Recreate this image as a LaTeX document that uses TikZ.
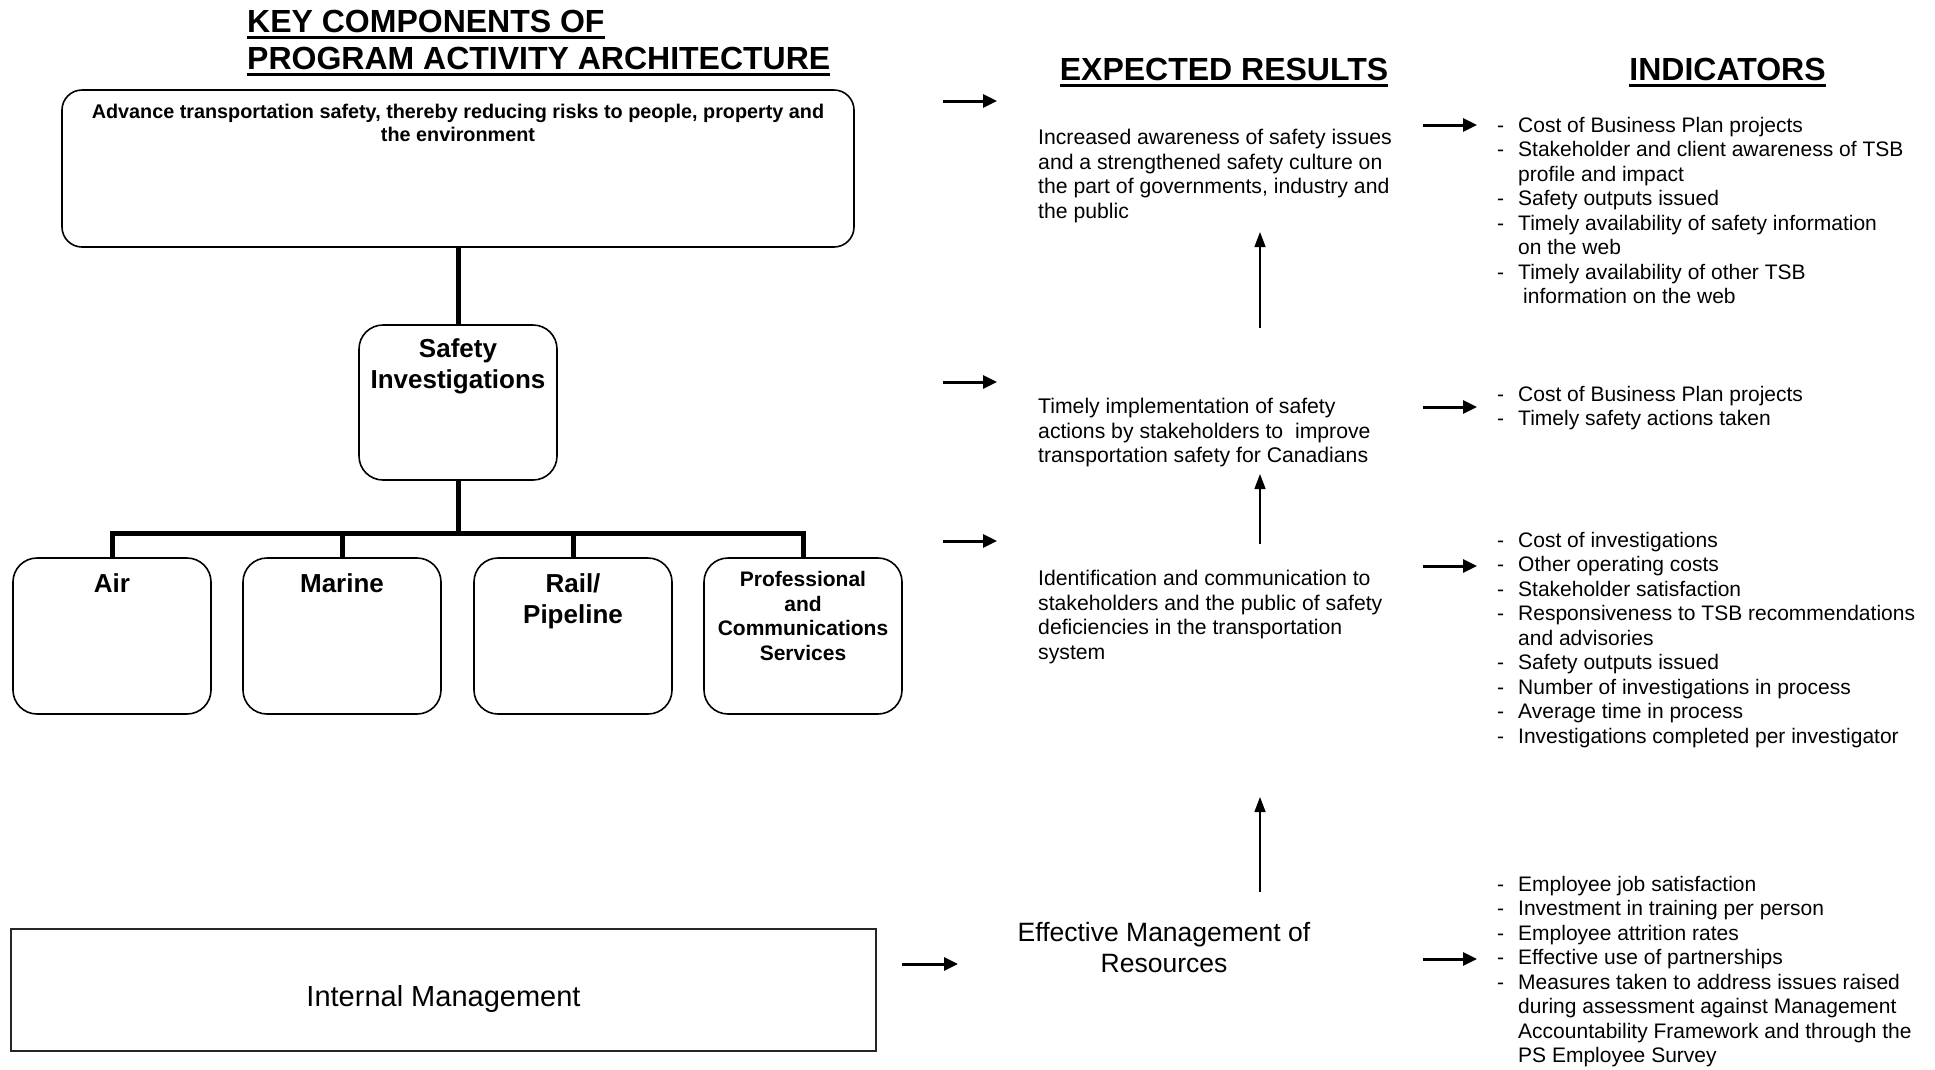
\documentclass[tikz,border=0pt]{standalone}
\usepackage{fontspec}
\setmainfont{Liberation Sans}
\usetikzlibrary{arrows.meta,positioning}
\newcommand{\ulhead}[1]{\leavevmode\setbox0=\hbox{#1}\rlap{\rule[-7pt]{\wd0}{3pt}}\box0}
\begin{document}
\begin{tikzpicture}[
    x=1pt, y=-1pt,
    headlbl/.style={font=\fontsize{32}{37}\selectfont\bfseries, inner sep=0pt},
    roundbox/.style={draw, line width=1.6pt, rounded corners=20pt},
    goalbox/.style={roundbox, minimum width=792pt, minimum height=157pt},
    unitbox/.style={roundbox, rounded corners=24pt, minimum width=198pt, minimum height=156pt},
    mgmtbox/.style={draw=black!85, line width=1.6pt, minimum width=865pt, minimum height=122pt,
      font=\fontsize{29}{34}\selectfont, text height=32pt, text depth=0pt},
    goallbl/.style={font=\fontsize{19.8}{22.5}\selectfont\bfseries, align=center, inner sep=0pt},
    unitlbl/.style={font=\fontsize{26}{31.5}\selectfont\bfseries, align=center, inner sep=0pt},
    proflbl/.style={font=\fontsize{21}{24.5}\selectfont\bfseries, align=center, inner sep=0pt},
    resultlbl/.style={font=\fontsize{21.2}{24.5}\selectfont, align=left, inner sep=0pt, anchor=north west},
    bigresult/.style={font=\fontsize{26.5}{31}\selectfont, align=center, inner sep=0pt, anchor=north},
    indlist/.style={font=\fontsize{21}{24.5}\selectfont, inner sep=0pt, anchor=north west},
    treeline/.style={line width=5pt},
    fatarrow/.style={line width=3pt, -{Triangle[length=14pt,width=13pt]}},
    thinarrow/.style={line width=1.5pt, -{Triangle[length=15pt,width=11pt]}}
  ]
  \useasboundingbox (0,0) rectangle (1935,1069);
  \def\unity{636}
  \def\indx{1497}

  \node[headlbl, align=left, anchor=north west] (ttl) at (247,9.5)
    {\ulhead{KEY COMPONENTS OF}\\\ulhead{PROGRAM ACTIVITY ARCHITECTURE}};
  \node[headlbl, anchor=base] (exphead) at (1224,80) {\ulhead{EXPECTED RESULTS}};
  \node[headlbl, anchor=base] (indhead) at (1727.5,80) {\ulhead{INDICATORS}};

  \node[goalbox] (goal) at (458,168.5) {};
  \node[goallbl, below=15pt of goal.north] (goal-txt)
    {Advance transportation safety, thereby reducing risks to people, property and\\the environment};
  \node[unitbox, minimum height=155pt] (safety) at (458,402.5) {};
  \node[unitlbl, below=14pt of safety.north] (safety-txt) {Safety\\Investigations};

  \foreach \nm/\cx/\lbl/\lst/\gap in {%
    air/112/Air/unitlbl/16pt,
    marine/342/Marine/unitlbl/16pt,
    rail/573/{Rail/\\Pipeline}/unitlbl/16pt,
    prof/803/{Professional\\and\\Communications\\Services}/proflbl/14pt%
  }{
    \node[unitbox] (\nm) at (\cx,\unity) {};
    \node[\lst, below=\gap of \nm.north] (\nm-txt) {\lbl};
  }

  \coordinate (bar) at (458,533);
  \draw[treeline] (goal.south) -- (safety.north);
  \draw[treeline] (safety.south) -- (bar);
  \draw[treeline] (air.north) |- (bar) -| (prof.north);
  \draw[treeline] (marine.north) -- (marine.north |- bar);
  \draw[treeline] (rail.north) -- (rail.north |- bar);

  \node[mgmtbox] (intmgmt) at (443.5,990) {Internal Management};

  \node[resultlbl] (res1) at (1038,129) {Increased awareness of safety issues\\
    and a strengthened safety culture on\\the part of governments, industry and\\the public};
  \node[resultlbl] (res2) at (1038,398) {Timely implementation of safety\\
    actions by stakeholders to\ \ improve\\transportation safety for Canadians};
  \node[resultlbl] (res3) at (1038,570) {Identification and communication to\\
    stakeholders and the public of safety\\deficiencies in the transportation\\system};
  \node[bigresult] (res4) at (1164,922) {Effective Management of\\Resources};

  \node[indlist] (ind1) at (\indx,115) {\begin{tabular}{@{}p{21pt}@{}l@{}}
    - & Cost of Business Plan projects\\
    - & Stakeholder and client awareness of TSB\\
      & profile and impact\\
    - & Safety outputs issued\\
    - & Timely availability of safety information\\
      & on the web\\
    - & Timely availability of other TSB\\
      & \hspace{5pt}information on the web
  \end{tabular}};
  \node[indlist] (ind2) at (\indx,384) {\begin{tabular}{@{}p{21pt}@{}l@{}}
    - & Cost of Business Plan projects\\
    - & Timely safety actions taken
  \end{tabular}};
  \node[indlist] (ind3) at (\indx,530) {\begin{tabular}{@{}p{21pt}@{}l@{}}
    - & Cost of investigations\\
    - & Other operating costs\\
    - & Stakeholder satisfaction\\
    - & Responsiveness to TSB recommendations\\
      & and advisories\\
    - & Safety outputs issued\\
    - & Number of investigations in process\\
    - & Average time in process\\
    - & Investigations completed per investigator
  \end{tabular}};
  \node[indlist] (ind4) at (\indx,874) {\begin{tabular}{@{}p{21pt}@{}l@{}}
    - & Employee job satisfaction\\
    - & Investment in training per person\\
    - & Employee attrition rates\\
    - & Effective use of partnerships\\
    - & Measures taken to address issues raised\\
      & during assessment against Management\\
      & Accountability Framework and through the\\
      & PS Employee Survey
  \end{tabular}};

  \foreach \nm/\xa/\xb/\y in {%
    pa/943/997/101, pb/943/997/382, pc/943/997/541,
    ia/1423/1477/125, ib/1423/1477/407, ic/1423/1477/566, id/1423/1477/959,
    ma/902/958/964%
  }{
    \coordinate (\nm-from) at (\xa,\y);
    \coordinate (\nm-to) at (\xb,\y);
    \draw[fatarrow] (\nm-from) -- (\nm-to);
  }
  \foreach \nm/\ya/\yb in {ua/328/232, ub/544/474, uc/892/797}{
    \coordinate (\nm-from) at (1260,\ya);
    \coordinate (\nm-to) at (1260,\yb);
    \draw[thinarrow] (\nm-from) -- (\nm-to);
  }
\end{tikzpicture}
\end{document}
